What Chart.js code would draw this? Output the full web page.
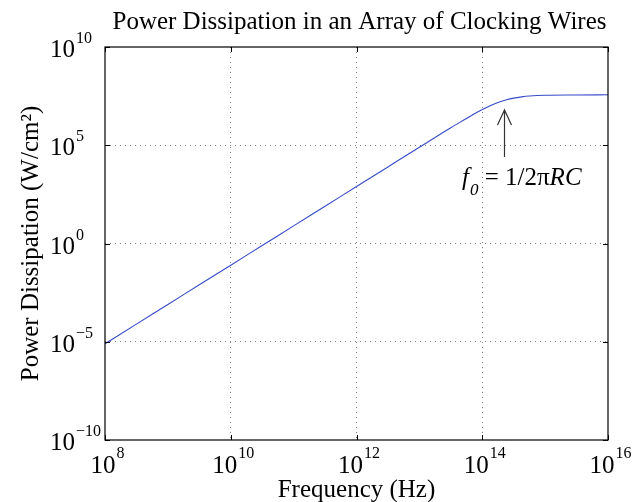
<!DOCTYPE html>
<html>
<head>
<meta charset="utf-8">
<script src="https://cdn.jsdelivr.net/npm/chart.js@4"></script>
<style>
  html, body { margin: 0; padding: 0; background: #fff; }
  #wrap { width: 641px; height: 502px; position: relative; }
</style>
</head>
<body>
<div id="wrap"><canvas id="chart" width="641" height="502"></canvas></div>
<script>
// values (log-log)
const freqHz = [1e8, 3.16e8, 1e9, 3.16e9, 1e10, 3.16e10, 1e11, 3.16e11, 1e12, 3.16e12,
  1e13, 3.16e13, 5.62e13, 7.5e13, 1e14, 1.33e14, 1.78e14, 2.37e14, 3.16e14, 4.22e14,
  5.62e14, 1e15, 3.16e15, 1e16];
const powerWcm2 = [7.9e-6, 7.9e-5, 7.9e-4, 7.9e-3, 7.9e-2, 0.79, 7.9, 79, 790, 7.9e3,
  7.9e4, 7.8e5, 2.3e6, 4.0e6, 6.5e6, 1.02e7, 1.5e7, 2.0e7, 2.5e7, 2.9e7,
  3.2e7, 3.5e7, 3.6e7, 3.7e7];

const xTicks = [1e8, 1e10, 1e12, 1e14, 1e16];
const yTicks = [1e-10, 1e-5, 1, 1e5, 1e10];

const titleText = 'Power Dissipation in an Array of Clocking Wires';
const xTitle = 'Frequency (Hz)';
const yTitle = 'Power Dissipation (W/cm\u00B2)';
const f0Freq = 1.78e14; // arrow position

const FONT = '"Liberation Serif", "DejaVu Serif", serif';

function expText(v) {
  const e = Math.round(Math.log10(v));
  return e < 0 ? '\u2212' + Math.abs(e) : String(e);
}

// dotted grid only inside the box
const innerGrid = ctx => (ctx.index === 0 || ctx.index === ctx.chart.scales[ctx.scale.id].ticks.length - 1)
  ? 'rgba(0,0,0,0)' : 'rgba(0,0,0,0.5)';

const matlabAxes = {
  id: 'matlabAxes',
  afterDraw(chart) {
    const { ctx, chartArea: a, scales: { x, y } } = chart;
    ctx.save();

    // box
    ctx.strokeStyle = '#000';
    ctx.lineWidth = 1.2;
    ctx.strokeRect(a.left, a.top, a.right - a.left, a.bottom - a.top);

    // inner tick marks on all four sides
    const tl = 5;
    ctx.lineWidth = 1;
    ctx.beginPath();
    xTicks.forEach(v => {
      const px = Math.round(x.getPixelForValue(v)) + 0.5;
      ctx.moveTo(px, a.bottom); ctx.lineTo(px, a.bottom - tl);
      ctx.moveTo(px, a.top); ctx.lineTo(px, a.top + tl);
    });
    yTicks.forEach(v => {
      const py = Math.round(y.getPixelForValue(v)) + 0.5;
      ctx.moveTo(a.left, py); ctx.lineTo(a.left + tl, py);
      ctx.moveTo(a.right, py); ctx.lineTo(a.right - tl, py);
    });
    ctx.stroke();

    ctx.fillStyle = '#000';
    const baseFont = '25px ' + FONT;
    const expFont = '16px ' + FONT;

    // x tick labels: 10^n centred on the tick
    ctx.textBaseline = 'alphabetic';
    xTicks.forEach(v => {
      const px = x.getPixelForValue(v) + 2;
      ctx.font = baseFont;
      const wb = ctx.measureText('10').width;
      ctx.font = expFont;
      const e = expText(v);
      const we = ctx.measureText(e).width;
      const start = px - (wb + we) / 2;
      ctx.textAlign = 'left';
      ctx.font = baseFont;
      ctx.fillText('10', start, a.bottom + 33);
      ctx.font = expFont;
      ctx.fillText(e, start + wb + 1, a.bottom + 18);
    });

    // y tick labels
    yTicks.forEach(v => {
      const py = y.getPixelForValue(v);
      ctx.font = baseFont;
      ctx.textAlign = 'right';
      ctx.fillText('10', 75, py + 10);
      ctx.font = expFont;
      ctx.textAlign = 'left';
      ctx.fillText(expText(v), 76, py - 4);
    });

    // titles
    const midX = (a.left + a.right) / 2;
    ctx.font = '25px ' + FONT;
    ctx.textAlign = 'center';
    ctx.fillText(titleText, midX + 3, 29);
    ctx.fillText(xTitle, midX, 497);

    ctx.save();
    ctx.translate(38, (a.top + a.bottom) / 2);
    ctx.rotate(-Math.PI / 2);
    ctx.fillText(yTitle, 0, 0);
    ctx.restore();

    // annotation arrow
    const ax = Math.round(x.getPixelForValue(f0Freq)) + 6.5;
    ctx.strokeStyle = '#333';
    ctx.lineWidth = 1.2;
    ctx.beginPath();
    ctx.moveTo(ax, 157); ctx.lineTo(ax, 110);
    ctx.moveTo(ax - 7, 125); ctx.lineTo(ax, 110); ctx.lineTo(ax + 7, 125);
    ctx.stroke();

    // f_0 = 1/2piRC
    ctx.fillStyle = '#000';
    ctx.textAlign = 'left';
    let tx = 462;
    const by = 185;
    ctx.font = 'italic 25px ' + FONT;
    ctx.fillText('f', tx, by); tx += ctx.measureText('f').width + 1;
    ctx.font = 'italic 17px ' + FONT;
    ctx.fillText('0', tx, by + 10); tx += ctx.measureText('0').width;
    ctx.font = '25px ' + FONT;
    ctx.fillText(' = 1/2\u03C0', tx, by); tx += ctx.measureText(' = 1/2\u03C0').width;
    ctx.font = 'italic 25px ' + FONT;
    ctx.fillText('RC', tx, by);

    ctx.restore();
  }
};

const points = freqHz.map((f, i) => ({ x: f, y: powerWcm2[i] }));

new Chart(document.getElementById('chart'), {
  type: 'line',
  data: {
    datasets: [{
      data: points,
      borderColor: 'rgb(55, 75, 200)',
      borderWidth: 1.1,
      pointRadius: 0,
      cubicInterpolationMode: 'monotone',
      fill: false
    }]
  },
  options: {
    responsive: false,
    animation: false,
    events: [],
    layout: { padding: { left: 105, right: 33, top: 47, bottom: 62 } },
    plugins: { legend: { display: false }, tooltip: { enabled: false } },
    scales: {
      x: {
        type: 'logarithmic',
        min: 1e8, max: 1e16,
        afterBuildTicks: s => { s.ticks = xTicks.map(v => ({ value: v })); },
        ticks: { display: false },
        grid: { color: innerGrid, drawTicks: false, lineWidth: 1 },
        border: { display: false, dash: [1, 4] }
      },
      y: {
        type: 'logarithmic',
        min: 1e-10, max: 1e10,
        afterBuildTicks: s => { s.ticks = yTicks.map(v => ({ value: v })); },
        ticks: { display: false },
        grid: { color: innerGrid, drawTicks: false, lineWidth: 1 },
        border: { display: false, dash: [1, 4] }
      }
    }
  },
  plugins: [matlabAxes]
});
</script>
</body>
</html>
